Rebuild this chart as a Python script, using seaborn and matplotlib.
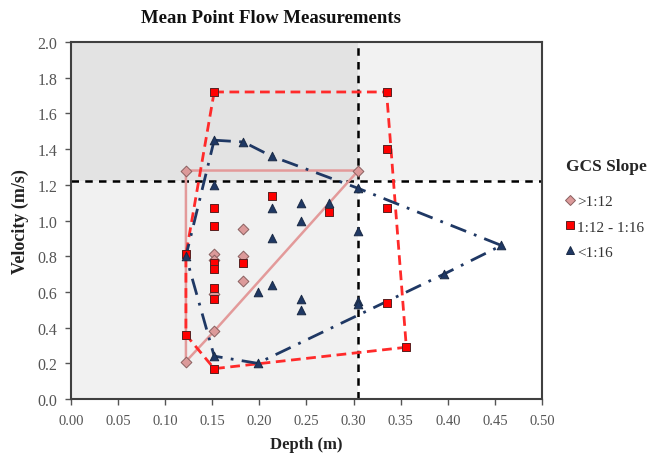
import numpy as np
import pandas as pd
import matplotlib
matplotlib.use("Agg")
import matplotlib.pyplot as plt
import seaborn as sns
from matplotlib.lines import Line2D

# ---- data ----
dia_depth = [0.122, 0.122, 0.152, 0.152, 0.152, 0.152, 0.183, 0.183, 0.183, 0.305]
dia_vel   = [1.28, 0.21, 0.38, 0.81, 0.78, 0.59, 0.95, 0.80, 0.66, 1.28]

sq_depth = [0.152, 0.335, 0.335, 0.335, 0.335, 0.356, 0.152, 0.122, 0.122,
            0.152, 0.152, 0.152, 0.152, 0.152, 0.152, 0.183, 0.213, 0.274]
sq_vel   = [1.72, 1.72, 1.40, 1.07, 0.54, 0.29, 0.17, 0.36, 0.81,
            1.07, 0.97, 0.76, 0.73, 0.62, 0.56, 0.76, 1.14, 1.05]

tri_depth = [0.152, 0.183, 0.213, 0.305, 0.457, 0.396, 0.198, 0.152, 0.122,
             0.152, 0.198, 0.213, 0.213, 0.213, 0.244, 0.244, 0.244, 0.244,
             0.274, 0.305, 0.305, 0.305]
tri_vel   = [1.45, 1.44, 1.36, 1.18, 0.86, 0.70, 0.20, 0.24, 0.80,
             1.20, 0.60, 0.64, 0.90, 1.07, 1.10, 1.00, 0.56, 0.50,
             1.10, 0.94, 0.55, 0.53]

# hull vertex order (indices into each series)
dia_hull = [0, 9, 2, 1, 0]
sq_hull = [0, 1, 5, 6, 7, 8, 0]
tri_hull = [0, 1, 2, 3, 4, 5, 6, 7, 8, 0]

series_names = [">1:12", "1:12 - 1:16", "<1:16"]
depth_limit = 0.305
vel_limit = 1.22

x_ticks = [0.00, 0.05, 0.10, 0.15, 0.20, 0.25, 0.30, 0.35, 0.40, 0.45, 0.50]
y_ticks = [0.0, 0.2, 0.4, 0.6, 0.8, 1.0, 1.2, 1.4, 1.6, 1.8, 2.0]

df = pd.concat([
    pd.DataFrame({"Depth": dia_depth, "Velocity": dia_vel, "GCS": series_names[0]}),
    pd.DataFrame({"Depth": sq_depth, "Velocity": sq_vel, "GCS": series_names[1]}),
    pd.DataFrame({"Depth": tri_depth, "Velocity": tri_vel, "GCS": series_names[2]}),
])

sns.set_theme(style="white")
plt.rcParams["font.family"] = ["Liberation Serif", "DejaVu Serif"]

fig = plt.figure(figsize=(6.49, 4.56), dpi=100)
ax = fig.add_axes([0.1094, 0.1228, 0.7257, 0.7829])

ax.set_xlim(0, 0.5)
ax.set_ylim(0, 2.0)

# background quadrants
yfrac = vel_limit / 2.0
ax.axvspan(0, depth_limit, ymin=yfrac, ymax=1, color="#e3e3e3", zorder=0, lw=0)
ax.axvspan(0, depth_limit, ymin=0, ymax=yfrac, color="#f1f1f1", zorder=0, lw=0)
ax.axvspan(depth_limit, 0.5, ymin=yfrac, ymax=1, color="#f2f2f2", zorder=0, lw=0)

ax.axhline(vel_limit, color="black", lw=1.8, ls=(0, (3, 2.5)), zorder=2)
ax.axvline(depth_limit, color="black", lw=1.8, ls=(0, (3, 2.5)), zorder=2)

# hulls
ax.plot([dia_depth[i] for i in dia_hull], [dia_vel[i] for i in dia_hull],
        color="#e39a9a", lw=1.8, zorder=3)
ax.plot([sq_depth[i] for i in sq_hull], [sq_vel[i] for i in sq_hull],
        color="#ff2a2a", lw=2.0, ls=(0, (3.5, 2)), zorder=3)
ax.plot([tri_depth[i] for i in tri_hull], [tri_vel[i] for i in tri_hull],
        color="#1f3864", lw=2.0, ls=(0, (6, 3, 1, 3)), zorder=3)

palette = {series_names[0]: "#dc9a9a", series_names[1]: "#ff0000", series_names[2]: "#1f3864"}
markers = {series_names[0]: "D", series_names[1]: "s", series_names[2]: "^"}
edges = {series_names[0]: "#8a6060", series_names[1]: "#5a2020", series_names[2]: "#1a2a45"}

for name in series_names:
    sub = df[df["GCS"] == name]
    sns.scatterplot(data=sub, x="Depth", y="Velocity", ax=ax,
                    color=palette[name], marker=markers[name],
                    s=38 if name != series_names[0] else 30,
                    edgecolor=edges[name], linewidth=0.7, zorder=4,
                    label=name, legend=False)

ax.set_xticks(x_ticks)
ax.set_xticklabels([f"{v:.2f}" for v in x_ticks])
ax.set_yticks(y_ticks)
ax.set_yticklabels([f"{v:.1f}" for v in y_ticks])
ax.tick_params(axis="both", which="major", direction="out", length=4, width=1,
               color="#555555", labelcolor="#555555",
               bottom=True, left=True)
ax.tick_params(axis="x", labelsize=10.5, pad=7)
ax.tick_params(axis="y", labelsize=11.5, pad=6)

for sp in ax.spines.values():
    sp.set_color("#404040")
    sp.set_linewidth(1.5)
    sp.set_zorder(5)

ax.set_xlabel("Depth (m)", fontsize=12, fontweight="bold", color="#222222", labelpad=6)
ax.set_ylabel("Velocity (m/s)", fontsize=13, fontweight="bold", color="#222222", labelpad=6)
fig.suptitle("Mean Point Flow Measurements", x=0.418, y=0.978, fontsize=13.5,
             fontweight="bold", color="#111111")

# legend
handles = [Line2D([], [], ls="none", marker=markers[n], markerfacecolor=palette[n],
                  markeredgecolor=edges[n], markersize=5.5, markeredgewidth=0.7)
           for n in series_names]
leg = fig.legend(handles, series_names, loc="upper left",
                 bbox_to_anchor=(0.855, 0.675), frameon=False,
                 title="GCS Slope", title_fontproperties={"weight": "bold", "size": 12.5},
                 fontsize=11, handlelength=0.6, handletextpad=0.15,
                 labelspacing=0.75, borderpad=0.2)
leg._legend_box.align = "left"
leg._legend_box.sep = 15
for t in leg.get_texts():
    t.set_color("#333333")

fig.savefig("out.png", dpi=100)
